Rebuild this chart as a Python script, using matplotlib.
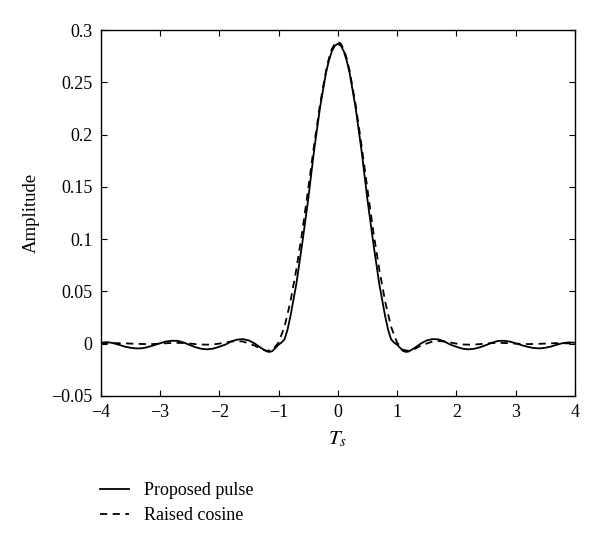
import numpy as np
import matplotlib.pyplot as plt

plt.rcParams['font.family'] = ['Liberation Serif', 'DejaVu Serif']
plt.rcParams['mathtext.fontset'] = 'stix'

# Proposed pulse
t_prop = [-4.0, -3.9, -3.8, -3.7, -3.6, -3.5, -3.4, -3.3, -3.2, -3.1,
          -3.0, -2.9, -2.8, -2.7, -2.6, -2.5, -2.4, -2.3, -2.2, -2.1,
          -2.0, -1.9, -1.8, -1.7, -1.6, -1.5, -1.4, -1.3, -1.2, -1.15,
          -1.1, -1.05, -1.0, -0.95, -0.9, -0.85, -0.8, -0.7, -0.6, -0.5,
          -0.4, -0.3, -0.2, -0.15, -0.1, -0.05, 0.0, 0.05, 0.1, 0.15, 0.2, 0.3, 0.4, 0.5,
          0.6, 0.7, 0.8, 0.85, 0.9, 0.95, 1.0, 1.05, 1.1, 1.15,
          1.2, 1.3, 1.4, 1.5, 1.6, 1.7, 1.8, 1.9, 2.0, 2.1,
          2.2, 2.3, 2.4, 2.5, 2.6, 2.7, 2.8, 2.9, 3.0, 3.1,
          3.2, 3.3, 3.4, 3.5, 3.6, 3.7, 3.8, 3.9, 4.0]
a_prop = [0.0008, 0.0014, 0.0006, -0.001, -0.0028, -0.004, -0.0046, -0.0045, -0.0032, -0.0015,
          0.0003, 0.002, 0.0027, 0.0026, 0.001, -0.0013, -0.0035, -0.005, -0.0055, -0.0048,
          -0.003, -0.001, 0.002, 0.0038, 0.0043, 0.003, 0.0, -0.004, -0.0075, -0.008,
          -0.007, -0.004, -0.001, 0.001, 0.004, 0.013, 0.026, 0.057, 0.096, 0.138,
          0.185, 0.226, 0.259, 0.271, 0.280, 0.2852, 0.287, 0.2852, 0.280, 0.271, 0.259, 0.226, 0.185, 0.138,
          0.096, 0.057, 0.026, 0.013, 0.004, 0.001, -0.001, -0.004, -0.007, -0.008,
          -0.0075, -0.004, 0.0, 0.003, 0.0043, 0.004, 0.002, -0.001, -0.003, -0.0048,
          -0.0055, -0.005, -0.0035, -0.0015, 0.0008, 0.0025, 0.0027, 0.002, 0.0003, -0.0015,
          -0.003, -0.0042, -0.0046, -0.004, -0.0028, -0.001, 0.0005, 0.0012, 0.0008]

# Raised cosine
t_rc = [-4.0, -3.9, -3.8, -3.7, -3.6, -3.5, -3.4, -3.3, -3.2, -3.1,
        -3.0, -2.9, -2.8, -2.7, -2.6, -2.5, -2.4, -2.3, -2.2, -2.1,
        -2.0, -1.9, -1.8, -1.7, -1.6, -1.5, -1.4, -1.3, -1.2, -1.1,
        -1.0, -0.9, -0.8, -0.7, -0.6, -0.5, -0.4, -0.3, -0.2, -0.15, -0.1, -0.05,
        0.0, 0.05, 0.1, 0.15, 0.2, 0.3, 0.4, 0.5, 0.6, 0.7, 0.8, 0.9,
        1.0, 1.1, 1.2, 1.3, 1.4, 1.5, 1.6, 1.7, 1.8, 1.9,
        2.0, 2.1, 2.2, 2.3, 2.4, 2.5, 2.6, 2.7, 2.8, 2.9,
        3.0, 3.1, 3.2, 3.3, 3.4, 3.5, 3.6, 3.7, 3.8, 3.9, 4.0]
a_rc = [0.0, 0.0002, 0.0003, 0.0004, 0.0003, 0.0, -0.0002, -0.0004, -0.0005, -0.0004,
        0.0, 0.0003, 0.0006, 0.0007, 0.0005, 0.0, -0.0005, -0.0009, -0.001, -0.0008,
        0.0, 0.001, 0.002, 0.0024, 0.002, 0.0, -0.002, -0.005, -0.007, -0.006,
        0.001, 0.016, 0.040, 0.071, 0.107, 0.148, 0.190, 0.229, 0.261, 0.273, 0.282, 0.2872,
        0.289, 0.2872, 0.282, 0.273, 0.261, 0.229, 0.190, 0.148, 0.107, 0.071, 0.040, 0.016,
        0.001, -0.006, -0.007, -0.005, -0.002, 0.0, 0.002, 0.0024, 0.002, 0.001,
        0.0, -0.0008, -0.001, -0.0009, -0.0005, 0.0, 0.0005, 0.0007, 0.0006, 0.0003,
        0.0, -0.0004, -0.0005, -0.0004, -0.0002, 0.0, 0.0003, 0.0004, 0.0003, 0.0002, 0.0]

xticks = [-4, -3, -2, -1, 0, 1, 2, 3, 4]
yticks = [-0.05, 0, 0.05, 0.1, 0.15, 0.2, 0.25, 0.3]
yticklabels = ['\u22120.05', '0', '0.05', '0.1', '0.15', '0.2', '0.25', '0.3']

fig = plt.figure(figsize=(6, 5.4), dpi=100)
ax = fig.add_axes([0.168, 0.267, 0.790, 0.677])

ax.plot(t_prop, a_prop, color='black', linewidth=1.3, label='Proposed pulse')
ax.plot(t_rc, a_rc, color='black', linewidth=1.3, linestyle=(0, (4, 3)), label='Raised cosine')

ax.set_xlim(-4, 4)
ax.set_ylim(-0.05, 0.3)
ax.set_xticks(xticks)
ax.set_xticklabels([str(v).replace('-', '\u2212') for v in xticks])
ax.set_yticks(yticks)
ax.set_yticklabels(yticklabels)
ax.tick_params(direction='in', top=True, right=True, length=4, labelsize=13, pad=6)
for s in ax.spines.values():
    s.set_linewidth(1.0)

ax.set_xlabel(r'$T_s$', fontsize=15, labelpad=6)
ax.set_ylabel('Amplitude', fontsize=13.5, labelpad=8)

fig.legend(loc='upper left', bbox_to_anchor=(0.14, 1 - 466 / 540), frameon=False,
           fontsize=13, handlelength=1.6, handletextpad=0.8, labelspacing=0.45)

fig.savefig('out.png', dpi=100)
